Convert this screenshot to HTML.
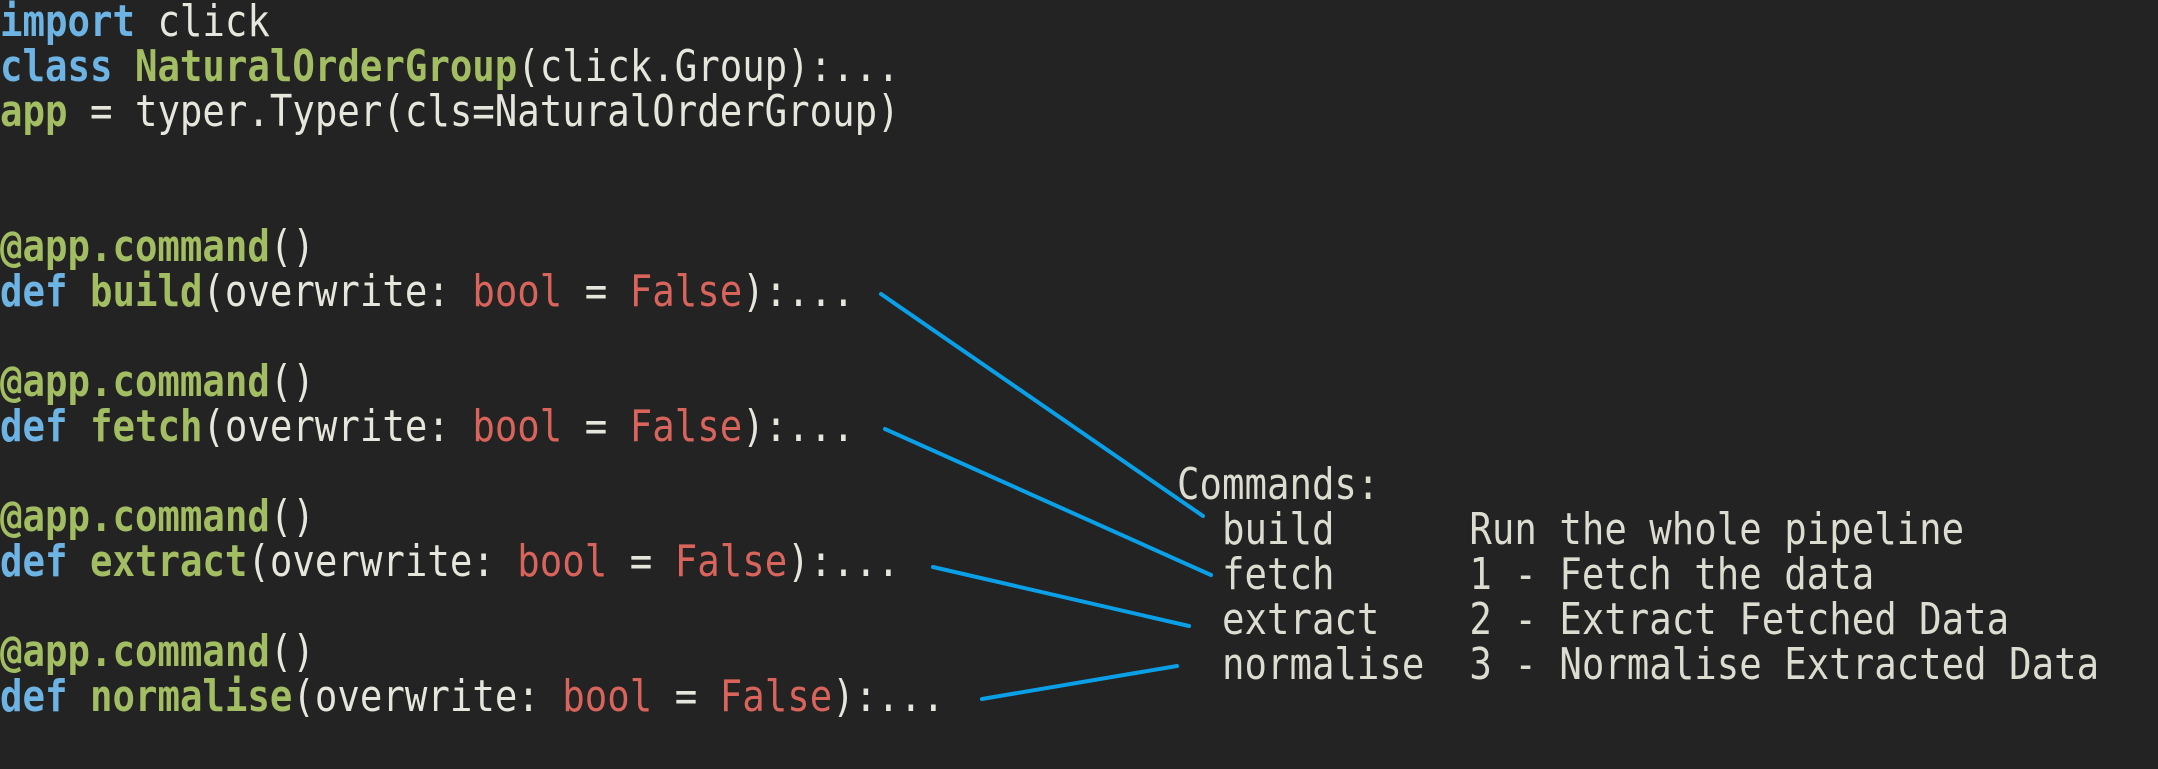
<!DOCTYPE html>
<html><head><meta charset="utf-8"><style>
html,body{margin:0;padding:0;background:#232323;}
body{width:2158px;height:769px;position:relative;overflow:hidden;}
.l{position:absolute;left:0;height:45px;line-height:45px;white-space:pre;font-family:"DejaVu Sans Mono","Liberation Mono",monospace;font-size:44px;color:#e6e6dc;transform:scaleX(0.849);transform-origin:0 50%;}
.k{color:#6db3e3;font-weight:bold}.g{color:#a2bd62;font-weight:bold}.r{color:#d8645c}
.c{color:#dcdcd0}
</style></head><body>
<div class="l" style="top:-1px"><span class="k">import</span> click</div>
<div class="l" style="top:44px"><span class="k">class</span> <span class="g">NaturalOrderGroup</span>(click.Group):...</div>
<div class="l" style="top:89px"><span class="g">app</span> = typer.Typer(cls=NaturalOrderGroup)</div>
<div class="l" style="top:224px"><span class="g">@app.command</span>()</div>
<div class="l" style="top:269px"><span class="k">def</span> <span class="g">build</span>(overwrite: <span class="r">bool</span> = <span class="r">False</span>):...</div>
<div class="l" style="top:359px"><span class="g">@app.command</span>()</div>
<div class="l" style="top:404px"><span class="k">def</span> <span class="g">fetch</span>(overwrite: <span class="r">bool</span> = <span class="r">False</span>):...</div>
<div class="l" style="top:494px"><span class="g">@app.command</span>()</div>
<div class="l" style="top:539px"><span class="k">def</span> <span class="g">extract</span>(overwrite: <span class="r">bool</span> = <span class="r">False</span>):...</div>
<div class="l" style="top:629px"><span class="g">@app.command</span>()</div>
<div class="l" style="top:674px"><span class="k">def</span> <span class="g">normalise</span>(overwrite: <span class="r">bool</span> = <span class="r">False</span>):...</div>

<div class="l c" style="left:1177px;top:462px">Commands:</div>
<div class="l c" style="left:1177px;top:507px">  build      Run the whole pipeline</div>
<div class="l c" style="left:1177px;top:552px">  fetch      1 - Fetch the data</div>
<div class="l c" style="left:1177px;top:597px">  extract    2 - Extract Fetched Data</div>
<div class="l c" style="left:1177px;top:642px">  normalise  3 - Normalise Extracted Data</div>

<svg width="2158" height="769" style="position:absolute;left:0;top:0">
<g stroke="#0aa0e8" stroke-width="4" stroke-linecap="round">
<line x1="881" y1="294" x2="1203" y2="516"/>
<line x1="885" y1="429" x2="1211" y2="575"/>
<line x1="933" y1="567" x2="1189" y2="626"/>
<line x1="982" y1="699" x2="1177" y2="666"/>
</g>
</svg>
</body></html>
